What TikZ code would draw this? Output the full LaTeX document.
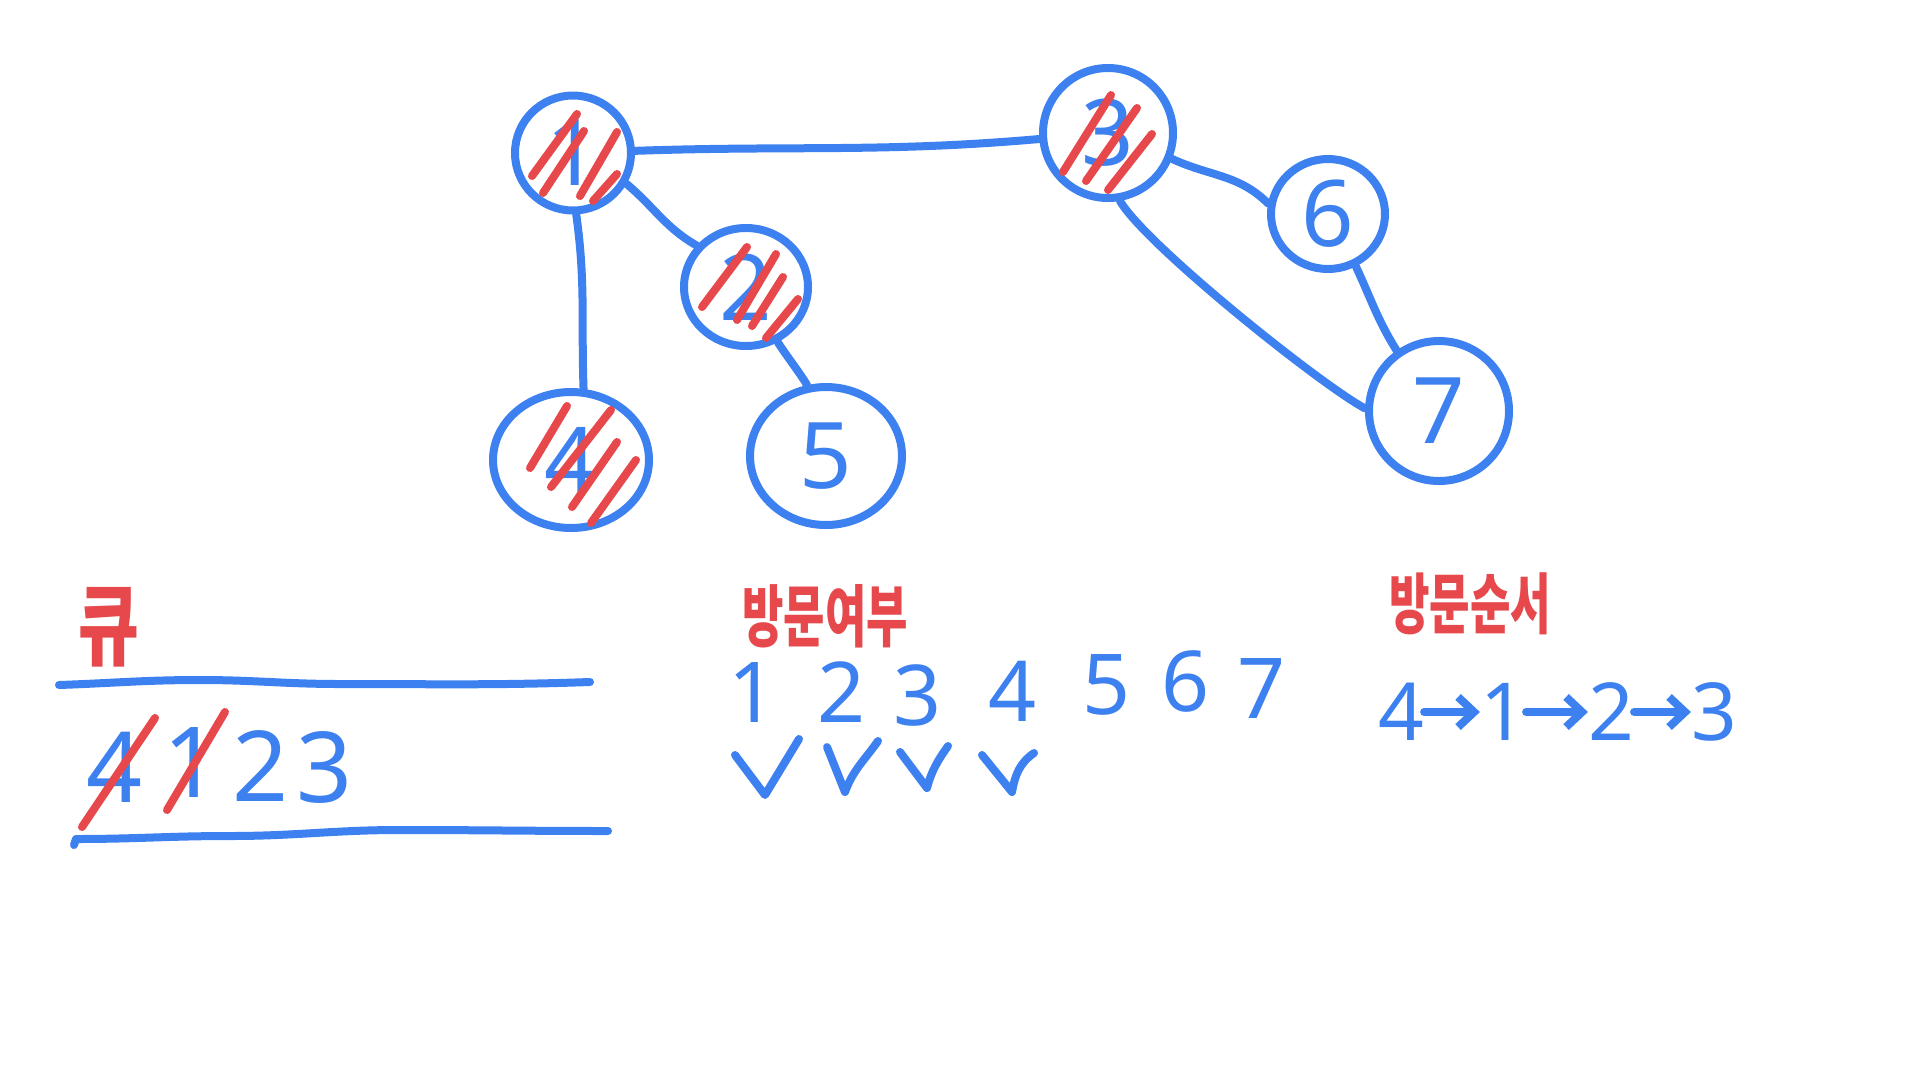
\documentclass[tikz,border=0pt]{standalone}
\usepackage{fontspec}
\setmainfont{Noto Sans}
\newfontfamily\kr{Noto Sans CJK KR}
\usetikzlibrary{shapes.geometric,arrows.meta}
\definecolor{ink}{HTML}{3D80F0}
\definecolor{mark}{HTML}{E6484C}
\begin{document}
\begin{tikzpicture}[x=1pt,y=1pt,
  pen/.style={draw=ink,line width=8pt,line cap=round,line join=round},
  hatch/.style={draw=mark,line width=8pt,line cap=round},
  vert/.style={ellipse,pen,inner sep=0pt,text=ink,font=\fontsize{92}{92}\selectfont},
  digit/.style={inner sep=0pt,text=ink},
  rowdigit/.style={digit,font=\fontsize{84}{84}\selectfont},
  qdigit/.style={digit,font=\fontsize{98}{98}\selectfont},
  seqdigit/.style={digit,font=\fontsize{80}{80}\selectfont},
  title/.style={inner sep=0pt,text=mark},
  seqarrow/.style={pen,-{Straight Barb[length=16pt,width=30pt]}}
]
\useasboundingbox[fill=white] (0,0) rectangle (1920,-1080);

% vertices
\node[vert,minimum width=116,minimum height=115] (n1) at (573,-153) {1};
\node[vert,minimum width=124,minimum height=118] (n2) at (746,-287) {2};
\node[vert,minimum width=156,minimum height=136] (n4) at (571,-460) {4};
\node[vert,minimum width=152,minimum height=138] (n5) at (826,-456) {5};
\node[vert,minimum width=130,minimum height=130] (n3) at (1108,-133) {3};
\node[vert,minimum width=114,minimum height=110] (n6) at (1328,-214) {6};
\node[vert,minimum width=140,minimum height=140] (n7) at (1439,-411) {7};

% edges
\draw[pen] (n1) to[out=2,in=185] (n3);
\draw[pen] (n1.-30) to[out=-40,in=150] (n2.140);
\draw[pen] (n1.-87) to[out=-82,in=92] (n4.80);
\draw[pen] (n2.-60) to[out=-60,in=118,looseness=0.5] (n5.105);
\draw[pen] (n3.-22) to[out=-25,in=135] (n6.170);
\draw[pen] (n3.-80) to[out=-60,in=152,looseness=0.4] (n7.178);
\draw[pen] (n6.-62) to[out=-65,in=122] (n7.125);

% hatching of visited vertices
\begin{scope}[shift={(n1.center)}]
  \draw[hatch] (-41,-23) -- (4,39);
  \draw[hatch] (-30,-40) -- (11,22);
  \draw[hatch] (7,-43) -- (44,21);
  \draw[hatch] (20,-48) -- (44,-21);
\end{scope}
\begin{scope}[shift={(n2.center)}]
  \draw[hatch] (-44,-20) -- (1,40);
  \draw[hatch] (-9,-33) -- (30,33);
  \draw[hatch] (6,-39) -- (37,10);
  \draw[hatch] (20,-51) -- (52,-12);
\end{scope}
\begin{scope}[shift={(n4.center)}]
  \draw[hatch] (-41,-8) -- (-4,54);
  \draw[hatch] (-20,-27) -- (40,50);
  \draw[hatch] (1,-47) -- (46,18);
  \draw[hatch] (20,-63) -- (65,0);
\end{scope}
\begin{scope}[shift={(n3.center)}]
  \draw[hatch] (-45,-39) -- (3,38);
  \draw[hatch] (-22,-48) -- (29,25);
  \draw[hatch] (0,-57) -- (44,-1);
\end{scope}

% queue
\node[title,font=\kr\bfseries\fontsize{66}{66}\selectfont] (tq) at (109,-627) {\scalebox{1}[1.35]{큐}};
\draw[pen] (59,-685) to[out=2,in=180] (200,-680) to[out=0,in=180] (340,-684) to[out=0,in=182] (590,-682);
\draw[pen] (74,-845) -- (76,-839) to[out=0,in=180] (230,-836) to[out=0,in=180] (400,-830) to[out=0,in=180] (608,-831);
\node[qdigit] (q4) at (115,-767) {4};
\node[qdigit] (q1) at (192,-762) {1};
\node[qdigit] (q2) at (261,-766) {2};
\node[qdigit] (q3) at (325,-768) {3};
\draw[hatch] (82,-827) -- (155,-718);
\draw[hatch] (167,-810) -- (225,-712);

% visited flags
\node[title,font=\kr\bfseries\fontsize{45}{45}\selectfont] (tvis) at (825,-616) {\scalebox{1}[1.5]{방문여부}};
\node[rowdigit] (v1) at (753,-692) {1};
\node[rowdigit] (v2) at (842,-692) {2};
\node[rowdigit] (v3) at (918,-695) {3};
\node[rowdigit] (v4) at (1013,-691) {4};
\node[rowdigit] (v5) at (1107,-685) {5};
\node[rowdigit] (v6) at (1186,-681) {6};
\node[rowdigit] (v7) at (1262,-688) {7};
\draw[pen] (735,-755) -- (765,-795) -- (799,-739);
\draw[pen] (827,-747) -- (845,-792) to[out=70,in=235] (878,-741);
\draw[pen] (900,-752) -- (927,-788) to[out=75,in=235] (948,-746);
\draw[pen] (982,-755) -- (1012,-792) to[out=80,in=215] (1034,-753);

% visit order
\node[title,font=\kr\bfseries\fontsize{44}{44}\selectfont] (tord) at (1470,-604) {\scalebox{1}[1.5]{방문순서}};
\node[seqdigit] (s4) at (1401,-712) {4};
\node[seqdigit] (s1) at (1503,-712) {1};
\node[seqdigit] (s2) at (1611,-712) {2};
\node[seqdigit] (s3) at (1714,-712) {3};
\draw[seqarrow] (s4) -- (s1);
\draw[seqarrow] (s1) -- (s2);
\draw[seqarrow] (s2) -- (s3);
\end{tikzpicture}
\end{document}
